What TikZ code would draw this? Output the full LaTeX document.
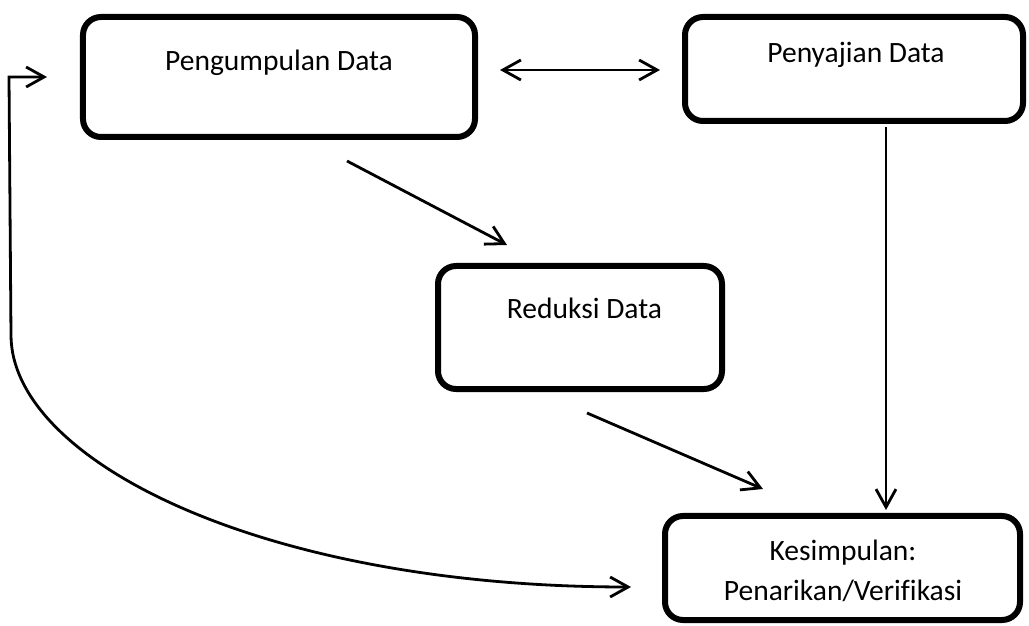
\documentclass[tikz,border=0pt]{standalone}
\usepackage{fontspec}
\setmainfont[Ligatures=NoCommon]{Carlito}
\usetikzlibrary{arrows.meta,calc}

\begin{document}
\begin{tikzpicture}[x=0.25mm,y=-0.25mm,font=\fontsize{21}{25}\selectfont,
  kotak/.style={draw,line width=1.5mm,rounded corners=4.5mm,inner sep=0pt},
  ujung/.tip={Straight Barb[length=4.5mm,width=5mm]},
  panah/.style={line width=0.7mm,-ujung}]

\useasboundingbox (0,0) rectangle (1029,626);

\node[kotak,minimum width=98mm,minimum height=30mm] (pengumpulan) at (279,77) {};
\node[kotak,minimum width=84.5mm,minimum height=26mm] (penyajian) at (854,69) {};
\node[kotak,minimum width=71mm,minimum height=30.75mm] (reduksi) at (580,327.5) {};
\node[kotak,minimum width=88.75mm,minimum height=26mm] (kesimpulan) at (842.5,568) {};

\node[anchor=base] (tpengumpulan) at (279,71) {Pengumpulan Data};
\node[anchor=base] (tpenyajian) at (856,63) {Penyajian Data};
\node[anchor=base] (treduksi) at (584.5,319) {Reduksi Data};
\node[anchor=base] (tkesimpulan) at (843,560) {Kesimpulan:};
\node[anchor=base] (tpenarikan) at (843,600) {Penarikan/Verifikasi};

\draw[panah,ujung-ujung] ($(pengumpulan.east)+(22,-7)$) -- ($(penyajian.west)+(-22,1)$);
\draw[panah] ($(pengumpulan.south)+(68,21)$) -- ($(reduksi.north)+(-73,-18)$);
\draw[panah] ($(reduksi.south)+(7,21)$) -- ($(kesimpulan.north)+(-79.5,-24)$);
\draw[panah] ($(penyajian.south)+(32,3)$) -- ($(kesimpulan.north)+(43.5,-3)$);
\draw[panah,ujung-ujung] ($(pengumpulan.west)+(-33,0)$) -- ++(-38,0) -- ++(2,258)
  .. controls +(0,125) and +(-370,0) .. ($(kesimpulan.west)+(-31,19)$);

\end{tikzpicture}
\end{document}
